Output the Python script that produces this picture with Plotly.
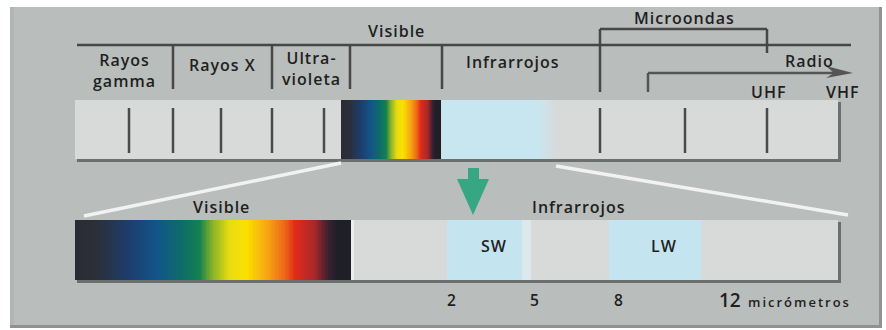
import numpy as np
import plotly.graph_objects as go

# ---------------- data ----------------
top_band_labels = ["Rayos<br>gamma", "Rayos X", "Ultra-<br>violeta", "Visible", "Infrarrojos"]
long_band_labels = ["Microondas", "Radio"]
radio_sub_labels = ["UHF", "VHF"]
zoom_band_labels = ["Visible", "Infrarrojos"]
ir_sub_labels = ["SW", "LW"]
wavelength_ticks = [2, 5, 8, 12]
wavelength_unit = "micrómetros"

# spectrum colour stops (fraction, colour)
spectrum_stops = [
    [0.00, "#2a2c35"], [0.08, "#2c2f3a"], [0.20, "#1d3e70"], [0.30, "#12568a"],
    [0.38, "#0e6a6a"], [0.45, "#128050"], [0.50, "#8cb428"], [0.56, "#e8dc10"],
    [0.62, "#fbe100"], [0.70, "#f6a414"], [0.76, "#ee6818"], [0.80, "#e02a1a"],
    [0.87, "#a82828"], [0.92, "#3a2030"], [0.95, "#1f1f2a"], [1.00, "#1f1f2a"],
]

# ---------------- layout constants (pixels) ----------------
W, H = 886, 330
TXT = "#1f1f1f"
LINE = "#474747"
PANEL = "#b9bdbb"
BAR = "#d8d9d9"
IRBLUE = "#c8e6f0"
FONT = "Open Sans"

fig = go.Figure()

def gradient(x0, x1, y0, y1, cs, n=120):
    t = np.linspace(0, 1, n)
    fig.add_trace(go.Heatmap(
        z=[t], x=np.linspace(x0, x1, n + 1), y=[y0, y1],
        colorscale=cs, zmin=0, zmax=1, showscale=False, hoverinfo="skip",
    ))

# spectrum gradients
gradient(341, 441, 100, 159, spectrum_stops, 100)
gradient(75, 351, 220, 280, spectrum_stops, 200)
# IR fade in top bar
gradient(538, 558, 100, 159, [[0, IRBLUE], [1, BAR]], 20)

shapes = []
def rect(x0, y0, x1, y1, fill, layer="below", lw=0, lc=None):
    shapes.append(dict(type="rect", x0=x0, y0=y0, x1=x1, y1=y1, fillcolor=fill,
                       line=dict(width=lw, color=lc or fill), layer=layer))
def line(x0, y0, x1, y1, color=LINE, width=2.5, layer="above"):
    shapes.append(dict(type="line", x0=x0, y0=y0, x1=x1, y1=y1,
                       line=dict(color=color, width=width), layer=layer))

# panel
rect(10, 7, 882, 328, "#8e9290")
rect(10, 7, 879, 325, PANEL)
rect(10, 7, 14, 325, "#b1b5b3")

# top bar
rect(77, 102, 841, 162, "#6d6f6f")
rect(75, 100, 838, 159, BAR)
rect(442, 100, 539, 159, IRBLUE)
# bottom bar
rect(77, 222, 841, 283, "#6d6f6f")
rect(75, 220, 838, 280, BAR)
rect(351, 220, 354, 280, "#eceeee")
rect(447, 220, 522, 280, "#c4e4ef")
rect(522, 220, 531, 280, "#dde8eb")
rect(609, 220, 701, 280, "#c4e4ef")

# ticks inside top bar
for x in [129, 173, 221, 272, 324, 600, 685, 767]:
    line(x, 108, x, 153, "#4a4a4a", 2.5)

# top brackets
line(77, 45, 851, 45)
for x in [173, 272, 350, 442]:
    line(x, 45, x, 89)
# microondas bracket
line(600, 29, 767, 29)
line(600, 29, 600, 92)
line(767, 29, 767, 53)
# radio arrow
line(648, 73, 838, 73, "#555555", 2.5)
line(648, 73, 648, 92, "#555555", 2.5)
shapes.append(dict(type="path", path="M 826 66 L 853 73 L 826 78 L 834 73 Z",
                   fillcolor="#555555", line=dict(width=0), layer="above"))

# zoom lines
line(341, 163, 84, 216, "#f2f2f2", 3.5)
line(556, 166, 848, 215, "#f2f2f2", 3.5)

# green arrow
shapes.append(dict(type="path",
                   path="M 468 168 L 479 168 L 479 179 L 489 179 L 473 215 L 457 179 L 468 179 Z",
                   fillcolor="#37a683", line=dict(width=0), layer="above"))

fig.update_layout(shapes=shapes)

# ---------------- text ----------------
ann = []
def text(x, y, s, size=16, xref="x", weight=600, ls=1.0):
    if ls:
        s = "<br>".join(f'<span style="letter-spacing:{ls}px">{p}</span>' for p in s.split("<br>"))
    ann.append(dict(x=x, y=y, xref=xref, yref="y", text=s, showarrow=False,
                    font=dict(family=FONT, size=size, color=TXT, weight=weight),
                    xanchor="center", yanchor="middle", align="center"))

top_x = [124, 222, 311, 396, 513]
top_y = [70, 65, 68, 31, 62]
for s, x, y in zip(top_band_labels, top_x, top_y):
    text(x, y, s)
text(684, 18, long_band_labels[0])
text(809, 61, long_band_labels[1])
text(768, 92, radio_sub_labels[0])
text(843, 92, radio_sub_labels[1])
text(221, 207, zoom_band_labels[0])
text(579, 207, zoom_band_labels[1])
text(494, 246, ir_sub_labels[0])
text(664, 246, ir_sub_labels[1])

for v in wavelength_ticks:
    text(v, 300, str(v), size=19 if v == 12 else 15.5, xref="x2", ls=0)
text(14.5, 302, wavelength_unit, size=13, xref="x2", ls=2.0)

fig.update_layout(annotations=ann)

# micrometre scale mapped onto the pixel axis
um_slope, um_zero = 27.89, 395.5
fig.update_layout(
    width=W, height=H, margin=dict(l=0, r=0, t=0, b=0),
    paper_bgcolor="white", plot_bgcolor="white", showlegend=False,
    xaxis=dict(range=[0, W], visible=False, fixedrange=True),
    xaxis2=dict(range=[-um_zero / um_slope, (W - um_zero) / um_slope],
                overlaying="x", visible=False, fixedrange=True),
    yaxis=dict(range=[H, 0], visible=False, fixedrange=True),
)

fig.write_html("out.html", config={"displayModeBar": False},
               post_script="document.body.style.margin='0';document.body.style.overflow='hidden';")
